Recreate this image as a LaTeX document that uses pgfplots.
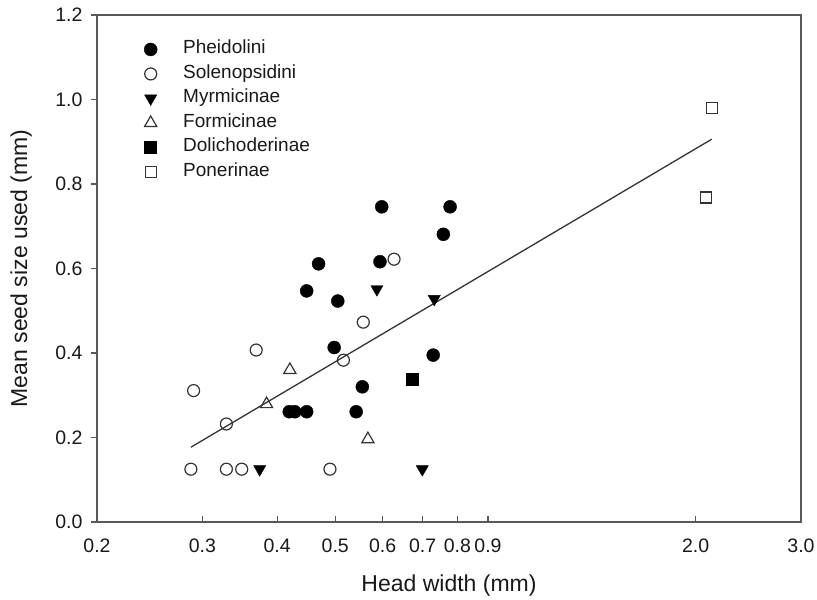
\documentclass[border=0pt]{standalone}
\usepackage{fontspec}
\setmainfont{Liberation Sans}
\usepackage{pgfplots}
\pgfplotsset{compat=1.18}
\newcommand{\tickf}{\fontsize{19.5}{22}\selectfont}
\newcommand{\labf}{\fontsize{23}{27}\selectfont}
\newcommand{\legf}{\fontsize{19}{22}\selectfont}
\begin{document}
\begin{tikzpicture}[font=\tickf]
\path[use as bounding box] (-97pt,-78pt) rectangle (720pt,522pt);
\begin{axis}[
  scale only axis, width=704pt, height=507pt,
  xmode=log, xmin=0.2, xmax=3, ymin=0, ymax=1.2,
  xtick={0.2,0.3,0.4,0.5,0.6,0.7,0.8,0.9,2,3},
  xticklabels={0.2,0.3,0.4,0.5,0.6,0.7,0.8,0.9,2.0,3.0},
  minor xtick={},
  ytick={0,0.2,0.4,0.6,0.8,1.0,1.2},
  yticklabels={0.0,0.2,0.4,0.6,0.8,1.0,1.2},
  xtick pos=bottom, ytick pos=left,
  tick align=inside, major tick length=6pt,
  ytick style={xshift=-6pt},
  every tick/.style={black!65, line width=1.3pt},
  axis line style={black!65, line width=1.6pt},
  tick label style={font=\tickf, text=black!90},
  label style={font=\labf, text=black!90},
  xticklabel style={yshift=-13pt},
  yticklabel style={xshift=-11pt},
  xlabel={Head width (mm)}, ylabel={Mean seed size used (mm)},
  xlabel style={at={(axis description cs:0.5,-0.138)}, anchor=base},
  ylabel style={at={(axis description cs:-0.0994,0.5)}, anchor=base},
  legend cell align=left,
  legend style={draw=none, fill=none, at={(axis description cs:0,1)}, anchor=north west,
    xshift=47pt, yshift=-22pt, inner sep=0pt, column sep=22pt, font=\legf, text=black!90,
    nodes={text height=12.5pt, text depth=4pt, inner sep=4pt}},
]
\addplot[only marks, mark=*, mark size=6.5pt, draw=black, fill=black] coordinates {
(0.598,0.746)(0.778,0.746)(0.758,0.681)(0.594,0.616)(0.469,0.611)(0.448,0.547)
(0.505,0.523)(0.498,0.413)(0.729,0.395)(0.555,0.320)(0.419,0.261)(0.428,0.261)
(0.448,0.261)(0.542,0.261)};
\addlegendentry{Pheidolini}
\addplot[only marks, mark=o, mark size=6pt, draw=black!80, line width=1.2pt] coordinates {
(0.627,0.622)(0.557,0.473)(0.369,0.407)(0.516,0.383)(0.290,0.311)(0.329,0.232)
(0.287,0.125)(0.329,0.125)(0.349,0.125)(0.490,0.125)};
\addlegendentry{Solenopsidini}
\addplot[only marks, mark=triangle*, mark size=7pt, draw=black, fill=black, mark options={rotate=180}] coordinates {
(0.587,0.551)(0.732,0.528)(0.374,0.125)(0.699,0.125)};
\addlegendentry{Myrmicinae}
\addplot[only marks, mark=triangle, mark size=7pt, draw=black!80, line width=1.2pt] coordinates {
(0.420,0.360)(0.384,0.279)(0.567,0.196)};
\addlegendentry{Formicinae}
\addplot[only marks, mark=square*, mark size=6pt, draw=black, fill=black] coordinates {
(0.673,0.338)};
\addlegendentry{Dolichoderinae}
\addplot[only marks, mark=square, mark size=5.5pt, draw=black!80, line width=1.2pt] coordinates {
(2.128,0.979)(2.082,0.768)};
\addlegendentry{Ponerinae}
\addplot[no marks, line width=1.3pt, black!80, forget plot] coordinates {(0.287,0.177)(2.128,0.906)};
\end{axis}
\end{tikzpicture}
\end{document}
